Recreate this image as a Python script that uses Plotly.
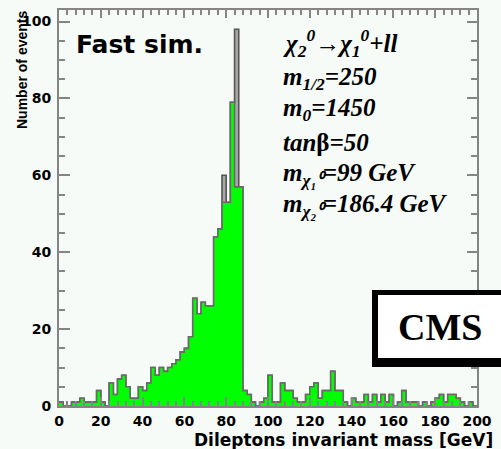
import plotly.graph_objects as go

# ---- data (2 GeV bins from 0 to 200 GeV) ----
bin_width = 2
bin_low_edges = [i * bin_width for i in range(100)]

fast_sim_counts = [
    1, 0, 0, 1, 1, 2, 1, 1, 1, 4,
    1, 0, 6, 3, 7, 8, 5, 2, 2, 5,
    4, 6, 10, 8, 10, 9, 10, 11, 12, 14,
    15, 18, 28, 24, 27, 26, 26, 44, 46, 53,
    53, 79, 57, 57, 4, 3, 1, 0, 1, 2,
    8, 1, 1, 6, 4, 4, 2, 1, 1, 3,
    5, 6, 2, 4, 4, 9, 4, 4, 1, 0,
    2, 1, 1, 3, 1, 3, 1, 3, 1, 3,
    0, 1, 4, 1, 1, 1, 0, 1, 0, 1,
    2, 3, 1, 3, 3, 2, 1, 0, 1, 0,
]

grey_counts = list(fast_sim_counts)
grey_counts[39] = 60
grey_counts[42] = 98

x_ticks = [0, 20, 40, 60, 80, 100, 120, 140, 160, 180, 200]
y_ticks = [0, 20, 40, 60, 80, 100]

# ---- figure ----
W, H = 501, 449
ML, MR, MT, MB = 59, 24, 10, 43
PW, PH = W - ML - MR, H - MT - MB
YMAX = 103
AX = "#858585"


def px(xp):
    return (xp - ML) / PW


def py(yp):
    return (H - MB - yp) / PH


def step(vals):
    xs = bin_low_edges + [bin_low_edges[-1] + bin_width]
    ys = list(vals) + [vals[-1]]
    return xs, ys


fig = go.Figure()
gx, gy = step(grey_counts)
fig.add_trace(go.Scatter(x=gx, y=gy, mode="lines", line=dict(shape="hv", color="#555555", width=1.6),
                         fill="tozeroy", fillcolor="#a8a8a8", hoverinfo="skip", showlegend=False))
fx, fy = step(fast_sim_counts)
fig.add_trace(go.Scatter(x=fx, y=fy, mode="lines", line=dict(shape="hv", color="#6a6a6a", width=1.6),
                         fill="tozeroy", fillcolor="#00ff00", hoverinfo="skip", showlegend=False))
# invisible trace bound to the mirror axes so they are drawn
fig.add_trace(go.Scatter(x=[0], y=[0], xaxis="x2", yaxis="y2", mode="markers",
                         marker=dict(opacity=0), hoverinfo="skip", showlegend=False))

tickfont = dict(family="DejaVu Sans", size=14, color="black", weight="bold")
common = dict(showline=True, linecolor=AX, linewidth=2, ticks="inside", tickcolor=AX, tickwidth=2,
              showgrid=False, zeroline=False)
xminor = dict(dtick=4, tick0=0, ticks="inside", ticklen=5, tickcolor=AX, tickwidth=2)
yminor = dict(dtick=5, tick0=0, ticks="inside", ticklen=6, tickcolor=AX, tickwidth=2)

fig.update_layout(
    xaxis=dict(range=[0, 200], tickvals=x_ticks, ticktext=[str(v) for v in x_ticks], ticklen=9,
               minor=xminor, ticklabelstandoff=1, tickfont=tickfont, **common),
    yaxis=dict(range=[0, YMAX], tickvals=y_ticks, ticktext=[str(v) for v in y_ticks], ticklen=11,
               minor=yminor, ticklabelstandoff=3, tickfont=tickfont, **common),
    xaxis2=dict(range=[0, 200], overlaying="x", side="top", anchor="y2", tickvals=x_ticks, ticklen=8,
                minor=xminor, showticklabels=False, **common),
    yaxis2=dict(range=[0, YMAX], overlaying="y", side="right", anchor="x2", tickvals=y_ticks, ticklen=10,
                minor=yminor, showticklabels=False, **common),
)

serif = dict(family="Liberation Serif", size=25, color="black", weight="bold", style="italic")
legend_lines = [
    ("χ<sub>2</sub><sup>0</sup>→χ<sub>1</sub><sup>0</sup>+ll", 43),
    ("m<sub>1/2</sub>=250", 79),
    ("m<sub>0</sub>=1450", 110),
    ("tan<span style='font-style:normal'>β</span>=50", 142),
    ("m<sub>χ₁⁰</sub>=99 GeV", 174),
    ("m<sub>χ₂⁰</sub>=186.4 GeV", 205),
]
annotations = []
for txt, yc in legend_lines:
    annotations.append(dict(text=txt, xref="paper", yref="paper", x=px(281), y=py(yc),
                            xanchor="left", yanchor="middle", showarrow=False, font=serif))

annotations += [
    dict(text="Fast sim.", xref="paper", yref="paper", x=px(74), y=py(44), xanchor="left", yanchor="middle",
         showarrow=False, font=dict(family="DejaVu Sans", size=25, color="black", weight="bold")),
    dict(text="CMS", xref="paper", yref="paper", x=px(440), y=py(327), xanchor="center", yanchor="middle",
         showarrow=False, font=dict(family="Liberation Serif", size=38, color="black", weight="bold")),
    dict(text="Dileptons invariant mass [GeV]", xref="paper", yref="paper", x=px(495), y=py(440),
         xanchor="right", yanchor="middle", showarrow=False,
         font=dict(family="DejaVu Sans", size=17, color="black", weight="bold")),
    dict(text="Number of events", xref="paper", yref="paper", x=px(22), y=py(70), textangle=-90,
         xanchor="center", yanchor="middle", showarrow=False,
         font=dict(family="Liberation Sans", size=14, color="black", weight="bold")),
]

shapes = [
    dict(type="rect", xref="paper", yref="paper", x0=px(372), x1=px(506), y0=py(367), y1=py(290),
         fillcolor="black", line=dict(width=0), layer="above"),
    dict(type="rect", xref="paper", yref="paper", x0=px(378), x1=px(506), y0=py(358), y1=py(295),
         fillcolor="white", line=dict(width=0), layer="above"),
]

fig.update_layout(
    width=W, height=H, margin=dict(l=ML, r=MR, t=MT, b=MB, pad=0),
    paper_bgcolor="#f6fbf8", plot_bgcolor="#f6fbf8",
    annotations=annotations, shapes=shapes, showlegend=False,
)

fig.write_html("out.html")
